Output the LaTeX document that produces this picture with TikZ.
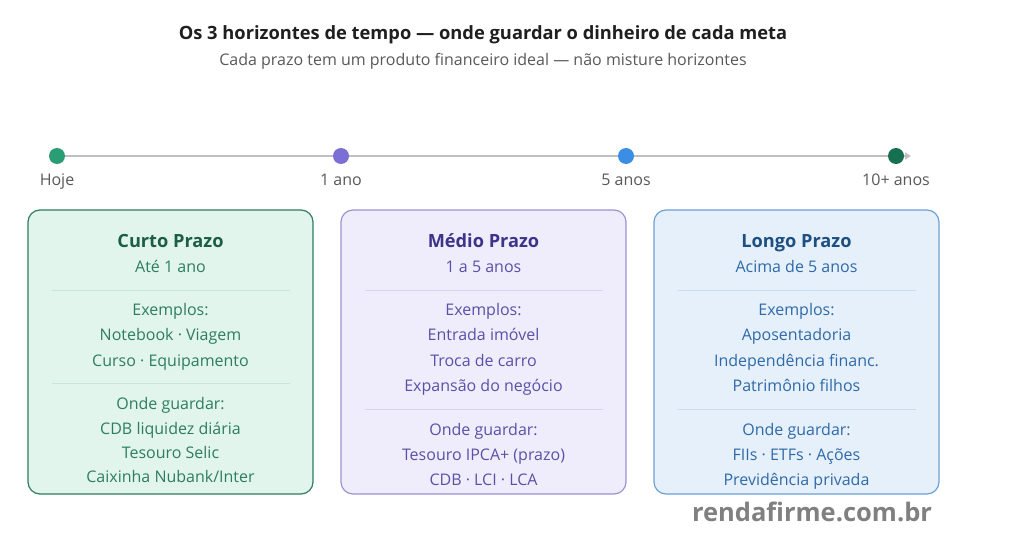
\documentclass[tikz,border=0pt]{standalone}
\usepackage{fontspec}
\setmainfont{Open Sans}
\usetikzlibrary{arrows.meta}
\definecolor{gA}{HTML}{2A9D74}
\definecolor{pA}{HTML}{7B6FD6}
\definecolor{bA}{HTML}{3A8EE6}
\definecolor{dA}{HTML}{16704F}
\definecolor{f1}{HTML}{E1F5EC}\definecolor{s1}{HTML}{2E7D62}\definecolor{t1}{HTML}{1B5E44}\definecolor{c1}{HTML}{2E7D62}\definecolor{l1}{HTML}{C6E6D8}
\definecolor{f2}{HTML}{EFEDFB}\definecolor{s2}{HTML}{9B93D4}\definecolor{t2}{HTML}{3C3489}\definecolor{c2}{HTML}{5A50A8}\definecolor{l2}{HTML}{D8D4F0}
\definecolor{f3}{HTML}{E5F0FB}\definecolor{s3}{HTML}{6F9FD3}\definecolor{t3}{HTML}{1D4F80}\definecolor{c3}{HTML}{2F6AA8}\definecolor{l3}{HTML}{C8DCF0}
\tikzset{
  dot/.style={circle,inner sep=0pt,minimum size=16pt},
  tick/.style={font=\fontsize{16}{19}\selectfont,text=black!65,anchor=base},
  card/.style={draw,rounded corners=12pt,line width=1.2pt,minimum width=285pt,minimum height=284pt,inner sep=0pt},
  ctitle/.style={font=\fontsize{18.2}{21}\selectfont\bfseries,inner sep=0pt,anchor=base},
  ctext/.style={font=\fontsize{16}{19}\selectfont,inner sep=0pt,anchor=base},
}
\begin{document}
\begin{tikzpicture}[x=1pt,y=-1pt]
\useasboundingbox[fill=white] (0,0) rectangle (1024,540);
\node[font=\fontsize{18.3}{22}\selectfont\bfseries,text=black!88,anchor=base] (title) at (483,39.5) {Os 3 horizontes de tempo — onde guardar o dinheiro de cada meta};
\node[font=\fontsize{16}{19}\selectfont,text=black!65,anchor=base] (sub) at (483,65.5) {Cada prazo tem um produto financeiro ideal — não misture horizontes};
% timeline
\coordinate (ts) at (57,156);
\coordinate (te) at (911,156);
\draw[black!25,line width=2.5pt,-{Triangle[length=6pt,width=7pt]}] (ts) -- (te);
\node[dot,fill=gA] (d0) at (57,156) {};
\node[dot,fill=pA] (d1) at (341,156) {};
\node[dot,fill=bA] (d2) at (626,156) {};
\node[dot,fill=dA] (d3) at (896,156) {};
\node[tick] (h0) at (57,185.5) {Hoje};
\node[tick] (h1) at (341,185.5) {1 ano};
\node[tick] (h2) at (626,185.5) {5 anos};
\node[tick] (h3) at (896,185.5) {10+ anos};
% cards
\node[card,fill=f1,draw=s1] (k1) at (170.5,352) {};
\node[card,fill=f2,draw=s2] (k2) at (483.5,352) {};
\node[card,fill=f3,draw=s3] (k3) at (796.5,352) {};
% card 1
\begin{scope}[every node/.append style={text=c1}]
\node[ctitle,text=t1] (a0) at (170.5,247) {Curto Prazo};
\node[ctext] (a1) at (170.5,272.5) {Até 1 ano};
\draw[l1,line width=1pt] (52,290) -- (290,290);
\node[ctext] (a2) at (170.5,315.5) {Exemplos:};
\node[ctext] (a3) at (170.5,340.5) {Notebook · Viagem};
\node[ctext] (a4) at (170.5,366.5) {Curso · Equipamento};
\draw[l1,line width=1pt] (52,383) -- (290,383);
\node[ctext] (a5) at (170.5,409.5) {Onde guardar:};
\node[ctext] (a6) at (170.5,434.5) {CDB liquidez diária};
\node[ctext] (a7) at (170.5,458.5) {Tesouro Selic};
\node[ctext] (a8) at (170.5,482.5) {Caixinha Nubank/Inter};
\end{scope}
% card 2
\begin{scope}[every node/.append style={text=c2}]
\node[ctitle,text=t2] (b0) at (483.5,247) {Médio Prazo};
\node[ctext] (b1) at (483.5,272.5) {1 a 5 anos};
\draw[l2,line width=1pt] (365,290) -- (603,290);
\node[ctext] (b2) at (483.5,315.5) {Exemplos:};
\node[ctext] (b3) at (483.5,340.5) {Entrada imóvel};
\node[ctext] (b4) at (483.5,366.5) {Troca de carro};
\node[ctext] (b5) at (483.5,391.5) {Expansão do negócio};
\draw[l2,line width=1pt] (365,409) -- (603,409);
\node[ctext] (b6) at (483.5,435.5) {Onde guardar:};
\node[ctext] (b7) at (483.5,460.5) {Tesouro IPCA+ (prazo)};
\node[ctext] (b8) at (483.5,485.5) {CDB · LCI · LCA};
\end{scope}
% card 3
\begin{scope}[every node/.append style={text=c3}]
\node[ctitle,text=t3] (c0) at (796.5,247) {Longo Prazo};
\node[ctext] (c1) at (796.5,272.5) {Acima de 5 anos};
\draw[l3,line width=1pt] (678,290) -- (916,290);
\node[ctext] (c2) at (796.5,315.5) {Exemplos:};
\node[ctext] (c3) at (796.5,340.5) {Aposentadoria};
\node[ctext] (c4) at (796.5,366.5) {Independência financ.};
\node[ctext] (c5) at (796.5,391.5) {Patrimônio filhos};
\draw[l3,line width=1pt] (678,409) -- (916,409);
\node[ctext] (c6) at (796.5,435.5) {Onde guardar:};
\node[ctext] (c7) at (796.5,460.5) {FIIs · ETFs · Ações};
\node[ctext] (c8) at (796.5,485.5) {Previdência privada};
\end{scope}
\node[font=\fontsize{25.5}{30}\selectfont\bfseries,text=black!50,anchor=base] (wm) at (812,521) {rendafirme.com.br};
\end{tikzpicture}
\end{document}
